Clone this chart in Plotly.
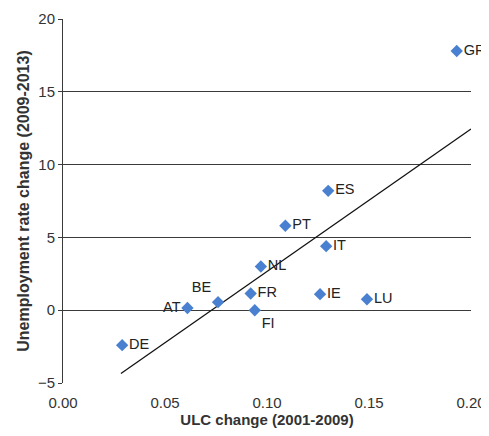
import plotly.graph_objects as go

countries = ["DE", "AT", "BE", "FR", "FI", "NL", "PT", "IT", "IE", "LU", "ES", "GR"]
ulc_change = [0.029, 0.061, 0.076, 0.092, 0.094, 0.097, 0.109, 0.129, 0.126, 0.149, 0.130, 0.193]
unemp_change = [-2.4, 0.15, 0.55, 1.15, 0.0, 3.0, 5.8, 4.4, 1.1, 0.75, 8.2, 17.8]
label_pos = ["middle right", "middle left", "top left", "middle right", "bottom right",
             "middle right", "middle right", "middle right", "middle right", "middle right",
             "middle right", "middle right"]

trend_x = [0.0284, 0.200]
trend_y = [-4.35, 12.45]

x_ticks = [0.0, 0.05, 0.10, 0.15, 0.20]
x_ticklabels = ["0.00", "0.05", "0.10", "0.15", "0.20"]
y_ticks = [-5, 0, 5, 10, 15, 20]

FONT = "Liberation Sans, Arial"

fig = go.Figure()
fig.add_trace(go.Scatter(x=trend_x, y=trend_y, mode="lines",
                         line=dict(color="#111111", width=1.3), hoverinfo="skip",
                         showlegend=False))
fig.add_trace(go.Scatter(x=ulc_change, y=unemp_change, mode="markers+text",
                         text=countries, textposition=label_pos,
                         textfont=dict(family=FONT, size=14.5, color="#222222"),
                         marker=dict(symbol="diamond", size=9.5, color="#4A80D0"),
                         cliponaxis=False, showlegend=False))

fig.update_layout(
    width=481, height=428,
    margin=dict(l=55, r=18, t=11, b=53),
    paper_bgcolor="white", plot_bgcolor="white",
    font=dict(family=FONT, color="#333333"),
    xaxis=dict(range=[0, 0.2], tickvals=x_ticks, ticktext=x_ticklabels,
               showgrid=False, zeroline=False, showline=False, automargin=False,
               ticklabelstandoff=9,
               tickfont=dict(size=15, color="#333333"),
               title=dict(text="<b>ULC change (2001-2009)</b>", font=dict(size=15, color="#333333"),
                          standoff=0)),
    yaxis=dict(range=[-5, 20], tickvals=y_ticks, showgrid=True, gridcolor="#3a3a3a",
               gridwidth=1, zeroline=False, showline=True, linecolor="#3a3a3a",
               automargin=False,
               ticks="outside", ticklen=4, tickcolor="#3a3a3a",
               tickfont=dict(size=15, color="#333333"),
               title=dict(text="<b>Unemployment rate change (2009-2013)</b>",
                          font=dict(size=16, color="#333333"), standoff=4)),
)

fig.write_html("out.html")
